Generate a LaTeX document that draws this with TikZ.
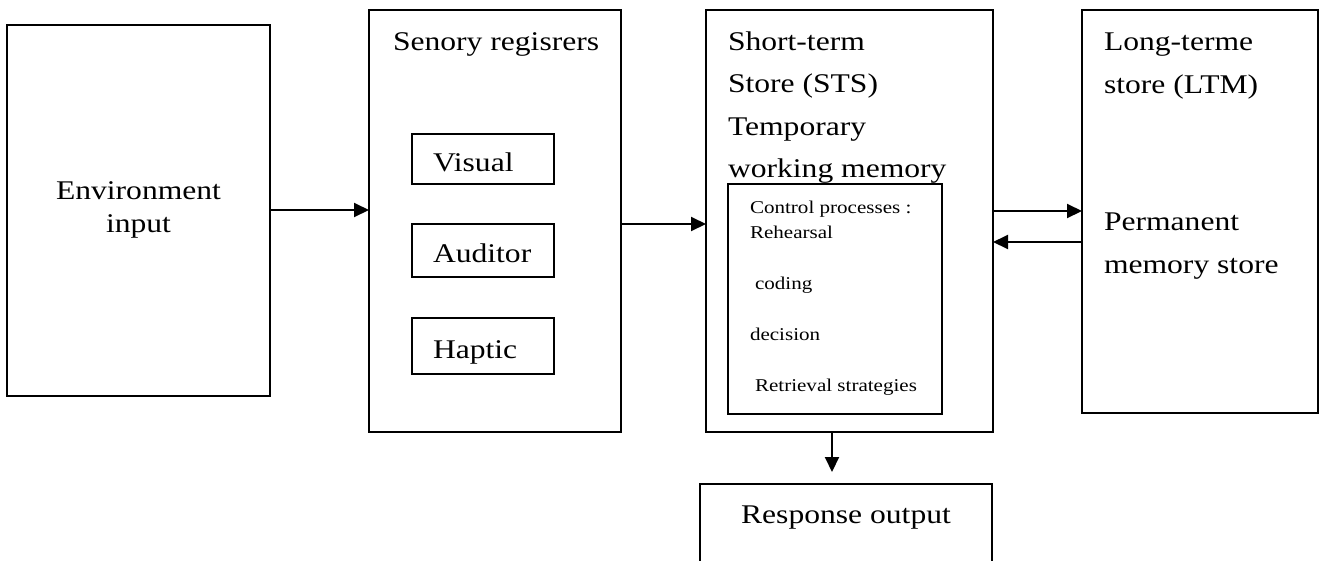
\documentclass[tikz,border=0pt]{standalone}
\usepackage{fontspec}
\setmainfont[FakeStretch=1.17]{Liberation Serif}
\usetikzlibrary{arrows.meta}
\begin{document}
\begin{tikzpicture}[x=1pt,y=-1pt,line width=2pt,
  font=\fontsize{27}{33}\selectfont,
  box/.style={draw,inner sep=0pt,outer sep=0pt},
  subbox/.style={box,text width=100pt,inner xsep=21pt,text height=24pt,text depth=0pt,minimum height=#1},
  lbl/.style={anchor=base west,inner sep=0pt},
  arr/.style={-{Triangle[length=15pt,width=14pt]}}]
  \useasboundingbox (0,0) rectangle (1320,560);
  \clip (0,0) rectangle (1320,560);
  % the four stores
  \node[box,minimum width=263pt,minimum height=371pt,align=center] (env) at (138.5,210) {Environment\\input};
  \node[box,minimum width=252pt,minimum height=422pt] (sens) at (495,221) {};
  \node[box,minimum width=287pt,minimum height=422pt] (sts) at (849.5,221) {};
  \node[box,minimum width=236pt,minimum height=403pt] (ltm) at (1200,211) {};
  \node[box,anchor=north,minimum width=292pt,text height=39pt,text depth=57pt] (resp) at (846,484) {Response output};
  % sensory registers
  \node[lbl] (senstitle) at (392,50) {Senory regisrers};
  \foreach \n/\y/\h/\lab in {vis/159/50/Visual,aud/250.5/53/Auditor,hap/346/56/Haptic}
    \node[subbox=\h pt] (\n) at (483,\y) {\lab};
  % short-term store
  \foreach \i/\t in {0/Short-term,1/{Store (STS)},2/Temporary,3/{working memory}}
    \node[lbl] (sts-\i) at (727,{50+42.5*\i}) {\t};
  \node[box,minimum width=214pt,minimum height=230pt] (ctrl) at (835,299) {};
  \foreach \i/\t in {0/{Control processes :},1/Rehearsal,3/{\hspace{5pt}coding},5/decision,7/{\hspace{5pt}Retrieval strategies}}
    \node[lbl,font=\fontsize{18}{22}\selectfont] (ctrl-\i) at (749,{213+25.5*\i}) {\t};
  % long-term store
  \foreach \i/\t/\y in {0/Long-terme/50,1/{store (LTM)}/93,2/Permanent/230,3/{memory store}/273}
    \node[lbl] (ltm-\i) at (1103,\y) {\t};
  % flows
  \draw[arr] (env.east) -- (env.east -| sens.west);
  \draw[arr] ([yshift=-3pt]sens.east) -- ([yshift=-3pt]sts.west);
  \draw[arr] (ltm.west -| sts.east) -- (ltm.west);
  \draw[arr] ([yshift=-31pt]ltm.west) -- ([yshift=-31pt]ltm.west -| sts.east);
  \coordinate (tip) at (832,472);
  \draw[arr] (sts.south -| tip) -- (tip);
\end{tikzpicture}
\end{document}
